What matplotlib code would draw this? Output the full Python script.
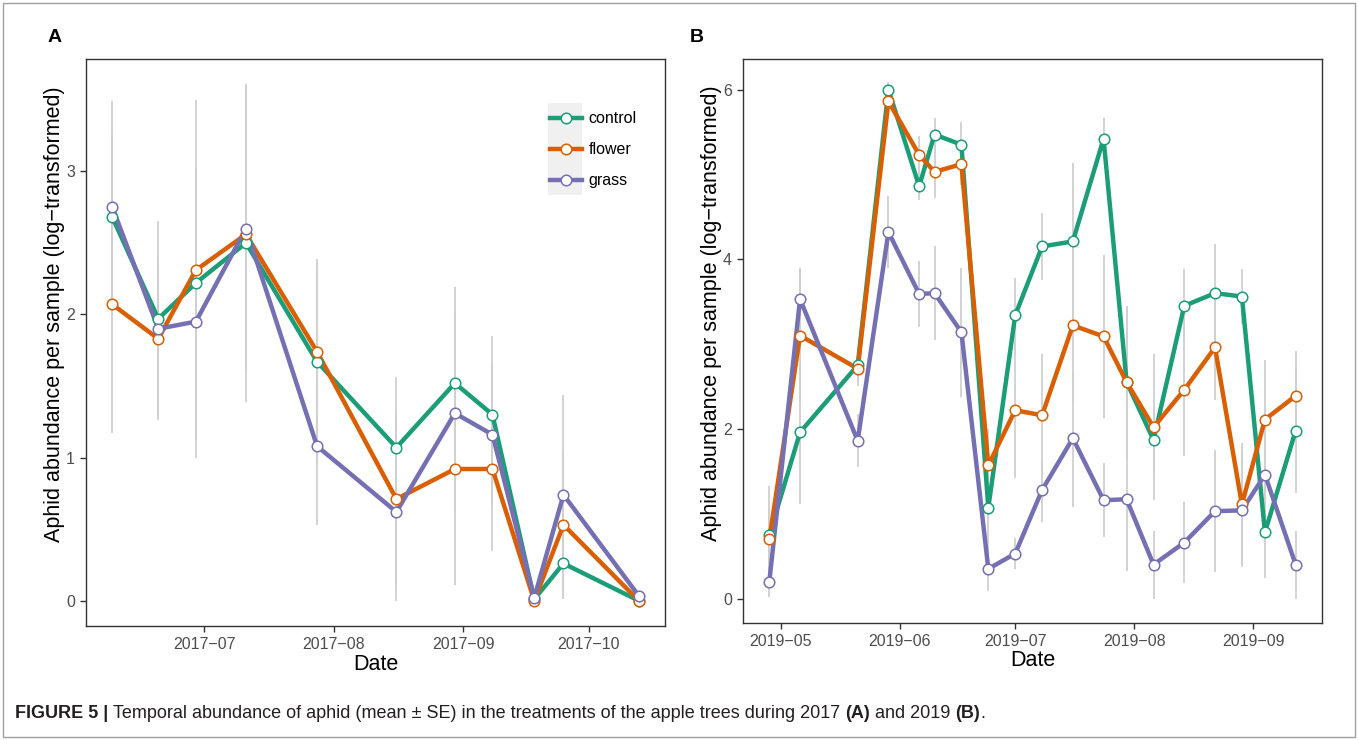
import matplotlib
matplotlib.use('Agg')
import matplotlib.pyplot as plt
import matplotlib.dates as mdates
from matplotlib.lines import Line2D
from matplotlib.patches import Rectangle
import numpy as np
import pandas as pd

plt.rcParams['font.family'] = ['Liberation Sans', 'DejaVu Sans']

treatments = ['control', 'flower', 'grass']
colors = {'control': '#1B9E77', 'flower': '#D95F02', 'grass': '#7570B3'}

# 2017 (panel A)
dates_a = pd.to_datetime(['2017-06-09', '2017-06-20', '2017-06-29', '2017-07-11', '2017-07-28',
                          '2017-08-16', '2017-08-30', '2017-09-08', '2017-09-18', '2017-09-25',
                          '2017-10-13'])
control_a = [2.68, 1.97, 2.22, 2.50, 1.67, 1.07, 1.52, 1.30, 0.01, 0.26, 0.00]
flower_a = [2.07, 1.83, 2.31, 2.56, 1.74, 0.71, 0.92, 0.92, 0.00, 0.53, 0.00]
grass_a = [2.75, 1.90, 1.95, 2.60, 1.08, 0.62, 1.31, 1.16, 0.02, 0.74, 0.035]
se_control_a = [0.60, 0.68, 0.80, 1.11, 0.72, 0.49, 0.67, 0.55, 0.0, 0.25, 0.0]
se_flower_a = [0.90, 0.57, 1.19, 0.90, 0.60, 0.60, 0.81, 0.57, 0.0, 0.50, 0.0]
se_grass_a = [0.74, 0.50, 0.95, 1.01, 0.55, 0.62, 0.70, 0.50, 0.0, 0.70, 0.0]

# 2019 (panel B)
dates_b = pd.to_datetime(['2019-04-28', '2019-05-06', '2019-05-21', '2019-05-29', '2019-06-06',
                          '2019-06-10', '2019-06-17', '2019-06-24', '2019-07-01', '2019-07-08',
                          '2019-07-16', '2019-07-24', '2019-07-30', '2019-08-06', '2019-08-14',
                          '2019-08-22', '2019-08-29', '2019-09-04', '2019-09-12'])
control_b = [0.75, 1.96, 2.75, 6.00, 4.86, 5.47, 5.35, 1.07, 3.34, 4.15, 4.21, 5.42, 2.55,
             1.87, 3.45, 3.60, 3.56, 0.78, 1.98]
flower_b = [0.70, 3.10, 2.71, 5.86, 5.23, 5.03, 5.12, 1.57, 2.22, 2.16, 3.22, 3.09, 2.55,
            2.02, 2.46, 2.96, 1.11, 2.11, 2.39]
grass_b = [0.20, 3.53, 1.86, 4.32, 3.59, 3.60, 3.14, 0.35, 0.53, 1.28, 1.89, 1.16, 1.17,
           0.40, 0.66, 1.03, 1.04, 1.46, 0.40]
se_control_b = [0.58, 0.84, 0.20, 0.09, 0.16, 0.19, 0.27, 0.50, 0.44, 0.40, 0.92, 0.24, 0.90,
                0.40, 0.43, 0.58, 0.32, 0.54, 0.73]
se_flower_b = [0.40, 0.80, 0.20, 0.20, 0.22, 0.31, 0.25, 0.43, 0.80, 0.72, 0.90, 0.96, 0.90,
               0.86, 0.78, 0.62, 0.72, 0.70, 0.53]
se_grass_b = [0.18, 0.37, 0.31, 0.42, 0.39, 0.55, 0.76, 0.26, 0.18, 0.38, 0.81, 0.44, 0.84,
              0.40, 0.48, 0.72, 0.67, 0.60, 0.40]

yticks_a = [0, 1, 2, 3]
yticks_b = [0, 2, 4, 6]
ylabel = 'Aphid abundance per sample (log\u2212transformed)'
caption_parts = [('FIGURE 5 | ', True),
                 ('Temporal abundance of aphid (mean \u00b1 SE) in the treatments of the apple trees during 2017 ', False),
                 ('(A)', True), (' and 2019 ', False), ('(B)', True), ('.', False)]

dark = '#333333'
tick_grey = '#4d4d4d'
err_grey = '#d0d0d0'
LW = 3.2
MS = 7.6


def draw_panel(ax, dates, means, ses, ylim, yticks):
    for name in treatments:
        m = np.array(means[name])
        s = np.array(ses[name])
        ax.vlines(dates, m - s, m + s, color=err_grey, lw=1.3, zorder=1)
    for name in treatments:
        ax.plot(dates, means[name], color=colors[name], lw=LW, zorder=2)
    for name in treatments:
        ax.plot(dates, means[name], ls='none', marker='o', ms=MS, mfc='white',
                mec=colors[name], mew=1.1, zorder=3)

    x0, x1 = mdates.date2num(dates.min()), mdates.date2num(dates.max())
    pad = 0.05 * (x1 - x0)
    ax.set_xlim(x0 - pad, x1 + pad)
    ax.set_ylim(*ylim)
    ax.set_yticks(yticks)
    ax.xaxis.set_major_locator(mdates.MonthLocator())
    ax.xaxis.set_major_formatter(mdates.DateFormatter('%Y\u2212%m'))

    for sp in ax.spines.values():
        sp.set_color(dark)
        sp.set_linewidth(1.0)
    ax.tick_params(colors=dark, labelcolor=tick_grey, length=4, width=1.0,
                   labelsize=11.5, pad=4)
    ax.set_xlabel('Date', fontsize=15.5, color='black', labelpad=1)
    ax.set_ylabel(ylabel, fontsize=15.5, color='black')
    ax.yaxis.set_label_coords(-0.036, 0.55)


fig = plt.figure(figsize=(13.58, 7.40), dpi=100)
W, H = 1358, 740

ax_a = fig.add_axes([86 / W, 1 - 626 / H, 579 / W, 567 / H])
ax_b = fig.add_axes([743 / W, 1 - 623 / H, 579 / W, 564 / H])

draw_panel(ax_a, dates_a,
           {'control': control_a, 'flower': flower_a, 'grass': grass_a},
           {'control': se_control_a, 'flower': se_flower_a, 'grass': se_grass_a},
           (-0.177, 3.785), yticks_a)
draw_panel(ax_b, dates_b,
           {'control': control_b, 'flower': flower_b, 'grass': grass_b},
           {'control': se_control_b, 'flower': se_flower_b, 'grass': se_grass_b},
           (-0.288, 6.36), yticks_b)

# legend in panel A with grey key background
handles = [Line2D([], [], color=colors[n], lw=LW, marker='o', ms=MS, mfc='white',
                  mec=colors[n], mew=1.1) for n in treatments]
ax_a.add_patch(Rectangle((0.798, 0.76), 0.059, 0.162, transform=ax_a.transAxes,
                         facecolor='#f0f0f0', edgecolor='none', zorder=0.5))
ax_a.legend(handles, treatments, loc='upper left', bbox_to_anchor=(0.802, 0.908),
            frameon=False, fontsize=11.5, handlelength=2.0, handletextpad=0.4,
            labelspacing=1.0, borderpad=0, borderaxespad=0, numpoints=1)

fig.text(55 / W, 1 - 37 / H, 'A', fontsize=14, fontweight='bold', ha='center', va='center')
fig.text(697 / W, 1 - 37 / H, 'B', fontsize=14, fontweight='bold', ha='center', va='center')

# figure border
fig.patches.append(Rectangle((3 / W, 3 / H), 1352 / W, 734 / H, transform=fig.transFigure,
                             facecolor='none', edgecolor='#a0a0a0', lw=1.0))

# caption with bold pieces
renderer = fig.canvas.get_renderer()
x = 15 / W
for text, bold in caption_parts:
    t = fig.text(x, 1 - 713 / H, text, fontsize=13, fontweight='bold' if bold else 'normal',
                 ha='left', va='center', color='#231f20')
    x += t.get_window_extent(renderer=renderer).width / W

fig.savefig('out.png', dpi=100)
